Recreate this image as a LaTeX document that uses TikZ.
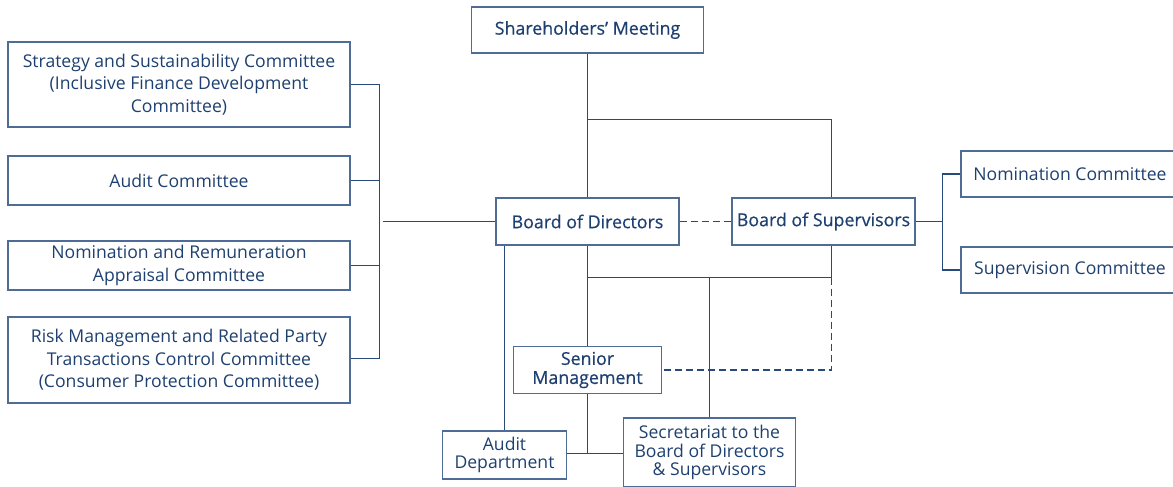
\documentclass[tikz,border=0pt]{standalone}
\usepackage{fontspec}
\setmainfont{Open Sans}
\newfontfamily\medfont[FakeBold=0.6]{Open Sans}
\usepackage{tikz}
\usetikzlibrary{positioning}
\definecolor{linecol}{RGB}{40,74,122}
\definecolor{boxcol}{RGB}{78,108,150}
\definecolor{textcol}{RGB}{30,64,112}

\begin{document}
\begin{tikzpicture}[x=1pt, y=-1pt, line width=1.1pt, color=linecol,
    unit/.style={rectangle, draw=boxcol, line width=1.3pt, text=textcol, align=center,
                 inner sep=0pt, font=\fontsize{17.6}{22.5}\selectfont},
    body/.style={unit, font=\medfont\fontsize{17.8}{19}\selectfont},
    dept/.style={unit, font=\fontsize{17.6}{18.5}\selectfont},
    tie/.style={dash pattern=on 7pt off 4pt}]

\useasboundingbox (0,0) rectangle (1173,487);

% governing bodies
\node[body, minimum width=232, minimum height=46] (share) at (587.5,30) {Shareholders’ Meeting};
\node[body, minimum width=183, minimum height=47] (bod) at (587.5,221.5) {Board of Directors};
\node[body, minimum width=183, minimum height=47] (bos) at (823.5,221.5) {Board of Supervisors};
\node[body, minimum width=148, minimum height=47] (senior) at (587.5,370) {Senior\\Management};

% board committees
\node[unit, minimum width=342, minimum height=85] (strat) at (179,84.5)
    {Strategy and Sustainability Committee\\(Inclusive Finance Development\\Committee)};
\node[unit, minimum width=342, minimum height=49] (auditc) at (179,180.5) {Audit Committee};
\node[unit, minimum width=342, minimum height=49] (nomrem) at (179,265.5)
    {Nomination and Remuneration\\Appraisal Committee};
\node[unit, minimum width=342, minimum height=86] (risk) at (179,360)
    {Risk Management and Related Party\\Transactions Control Committee\\(Consumer Protection Committee)};

% supervisory committees
\node[unit, minimum width=218, minimum height=46] (nomc) at (1070,174) {Nomination Committee};
\node[unit, minimum width=218, minimum height=46] (supc) at (1070,270) {Supervision Committee};

% departments
\node[dept, minimum width=124, minimum height=48] (auditd) at (504.5,455) {Audit\\Department};
\node[dept, minimum width=172, minimum height=69] (secr) at (709.5,452.5)
    {Secretariat to the\\Board of Directors\\\& Supervisors};

\coordinate (ltop) at (379.5,84.5);
\coordinate (lbot) at (379.5,358.5);
\coordinate (rbus) at (942.5,221.5);
\coordinate (sbr) at (587.5,119.5);
\coordinate (bosx) at (831.5,119.5);
\coordinate (mid) at (587.5,277.5);
\coordinate (low) at (587.5,453.5);

\draw (strat.east |- ltop) -- (ltop) -- (lbot) -- (risk.east |- lbot);
\draw (auditc.east) -- (auditc.east -| ltop);
\draw (nomrem.east) -- (nomrem.east -| ltop);
\draw ([xshift=3pt]ltop |- bod.west) -- (bod.west);

\draw (bos.east) -- (rbus);
\draw (nomc.west) -| (rbus) |- (supc.west);

\draw (share.south) -- (sbr) -- (bod.north);
\draw (sbr) -- (bosx) -- (bosx |- bos.north);
\draw[tie] (bod.east) -- (bos.west);

\draw (bod.south) -- (mid) -- (senior.north);
\draw (mid) -- (bosx |- mid) -- (bosx |- bos.south);
\draw[tie] (bosx |- mid) |- (senior.east);
\draw (secr.north) -- (secr.north |- mid);
\draw (auditd.north) -- (auditd.north |- bod.south);
\draw (senior.south) -- (low);
\draw (auditd.east |- low) -- (secr.west |- low);
\end{tikzpicture}
\end{document}
